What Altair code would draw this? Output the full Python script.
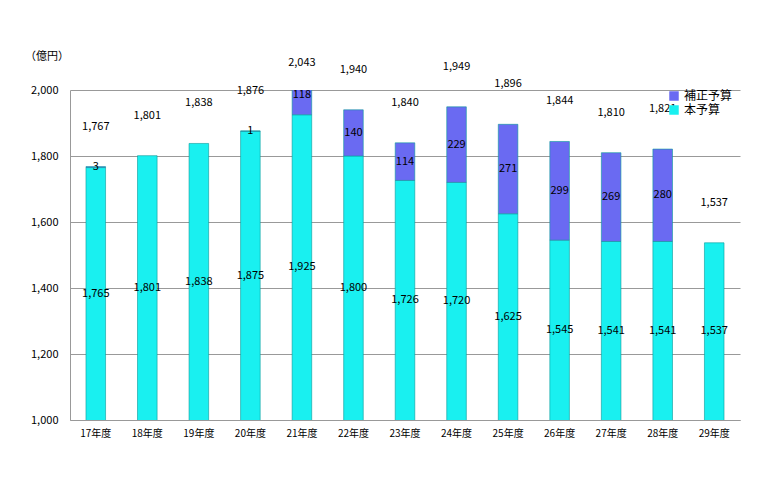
import altair as alt
import pandas as pd

years = ["17年度", "18年度", "19年度", "20年度", "21年度", "22年度", "23年度",
         "24年度", "25年度", "26年度", "27年度", "28年度", "29年度"]
main_budget = [1765, 1801, 1838, 1875, 1925, 1800, 1726, 1720, 1625, 1545, 1541, 1541, 1537]
supp_budget = [3, 0, 0, 1, 118, 140, 114, 229, 271, 299, 269, 280, 0]
totals = [1767, 1801, 1838, 1876, 2043, 1940, 1840, 1949, 1896, 1844, 1810, 1821, 1537]

FONT = "Noto Sans CJK JP"

rows = []
for i, y in enumerate(years):
    rows.append({"year": y, "kind": "本予算", "lo": 0, "hi": main_budget[i],
                 "val": main_budget[i], "mid": (1000 + main_budget[i]) / 2})
    rows.append({"year": y, "kind": "補正予算", "lo": main_budget[i],
                 "hi": main_budget[i] + supp_budget[i], "val": supp_budget[i],
                 "mid": main_budget[i] + supp_budget[i] / 2})
df = pd.DataFrame(rows)
tot = pd.DataFrame({"year": years, "total": totals})

xenc = alt.X("year:N", sort=years, title=None,
             scale=alt.Scale(paddingInner=0.62, paddingOuter=0.31),
             axis=alt.Axis(labelAngle=0, labelFont=FONT, labelFontSize=10, labelColor="#000",
                           domainColor="#999", ticks=False, labelPadding=8, grid=False))
yscale = alt.Scale(domain=[1000, 2000], nice=False, zero=False)

bars = alt.Chart(df).transform_filter("datum.val > 0").mark_bar(clip=True, stroke="#0a9a9a", strokeWidth=0.6).encode(
    x=xenc,
    y=alt.Y("lo:Q", scale=yscale, title=None,
            axis=alt.Axis(values=[1000, 1200, 1400, 1600, 1800, 2000], format=",d",
                          labelFont=FONT, labelFontSize=11, labelColor="#000", grid=True,
                          gridColor="#999", domainColor="#999", ticks=False, labelPadding=12)),
    y2="hi:Q",
    color=alt.Color("kind:N", scale=alt.Scale(domain=["補正予算", "本予算"], range=["#6a6af2", "#19f0f0"]),
                    legend=alt.Legend(title=None, orient="none", legendX=598, legendY=0,
                                      symbolType="square", symbolSize=90, symbolStrokeWidth=0,
                                      labelFont=FONT, labelFontSize=12, labelColor="#000")),
)

seg_labels = alt.Chart(df).transform_filter("datum.val > 0").mark_text(
    font=FONT, fontSize=11, color="#000").encode(
    x=alt.X("year:N", sort=years), y=alt.Y("mid:Q", scale=yscale), text=alt.Text("val:Q", format=","))

tot_labels = alt.Chart(tot).transform_calculate(
    ypos="min(datum.total, 1960)"
).mark_text(font=FONT, fontSize=11, color="#000", dy=-40).encode(
    x=alt.X("year:N", sort=years), y=alt.Y("ypos:Q", scale=yscale), text=alt.Text("total:Q", format=","))

unit = alt.Chart(pd.DataFrame({"t": ["（億円）"]})).mark_text(
    font=FONT, fontSize=11, color="#000", align="left").encode(
    x=alt.value(-45), y=alt.value(-33), text="t:N")

chart = alt.layer(bars, seg_labels, tot_labels, unit).properties(
    width=670, height=330, autosize=alt.AutoSizeParams(type="none"),
    padding={"left": 62, "top": 82, "right": 20, "bottom": 70}
).configure_view(stroke=None)

chart.save("out.html", embed_options={"renderer": "svg", "actions": False})
